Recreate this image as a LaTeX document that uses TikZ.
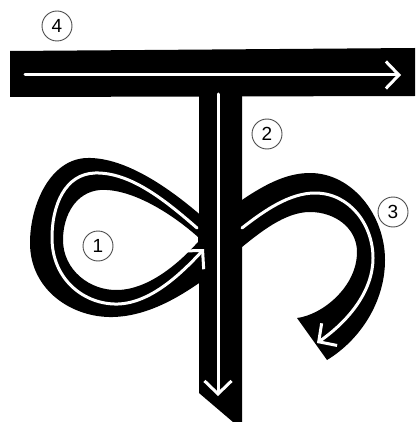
\documentclass[tikz,border=0pt]{standalone}
\usepackage{fontspec}
\setmainfont{Liberation Sans}
\usetikzlibrary{arrows.meta}
\tikzset{
  ink/.style={fill=black, draw=none},
  trace/.style={draw=white, line width=3pt, line cap=round, -{Straight Barb[length=13pt,width=27pt]}},
  num/.style={circle, draw=black!70, line width=0.9pt, minimum size=30pt, inner sep=0pt, font=\fontsize{19}{19}\selectfont}
}
\begin{document}
\begin{tikzpicture}[x=1pt,y=-1pt]
\useasboundingbox (0,0) rectangle (416,422);
% stroke 1: loop
\fill[ink, even odd rule] (205,219) .. controls (170,188) and (125,157) .. (87,158)
  .. controls (50,159) and (30,205) .. (30,243)
  .. controls (30,290) and (72,318) .. (113,317)
  .. controls (150,316) and (182,295) .. (205,279) -- cycle
  (198,237) .. controls (170,212) and (130,188) .. (100,190)
  .. controls (76,192) and (63,215) .. (63,240)
  .. controls (63,270) and (90,291) .. (118,290)
  .. controls (150,289) and (180,262) .. (198,242) -- cycle;
% stroke 3: hook
\fill[ink] (236,204) .. controls (262,186) and (285,173) .. (310,173)
  .. controls (352,173) and (385,215) .. (385,260)
  .. controls (385,302) and (360,340) .. (327,360) -- (297,318)
  .. controls (322,315) and (357,287) .. (357,252)
  .. controls (357,228) and (335,212) .. (310,212)
  .. controls (285,212) and (260,232) .. (236,252) -- cycle;
% stroke 2: stem
\fill[ink] (199,95) -- (242,95) -- (242,422) -- (233,422) -- (199,393) -- cycle;
% stroke 4: bar
\fill[ink] (10,51) -- (415,48) -- (415,96) -- (10,97) -- cycle;
% white traces
\draw[trace] (25,75) -- (401,75);
\draw[trace] (218,94) -- (218,396);
\draw[trace] (197,228) .. controls (165,200) and (130,172) .. (95,173)
  .. controls (65,174) and (52,205) .. (52,238)
  .. controls (52,280) and (85,305) .. (118,304)
  .. controls (150,303) and (180,275) .. (204,249);
\draw[trace] (242,228) .. controls (265,210) and (290,193) .. (315,193)
  .. controls (350,193) and (373,225) .. (373,258)
  .. controls (373,290) and (350,320) .. (317,343);
% numbers
\node[num] (n4) at (57,26) {4};
\node[num] (n2) at (267,134) {2};
\node[num] (n3) at (393,212) {3};
\node[num] (n1) at (98,246) {1};
\end{tikzpicture}
\end{document}
